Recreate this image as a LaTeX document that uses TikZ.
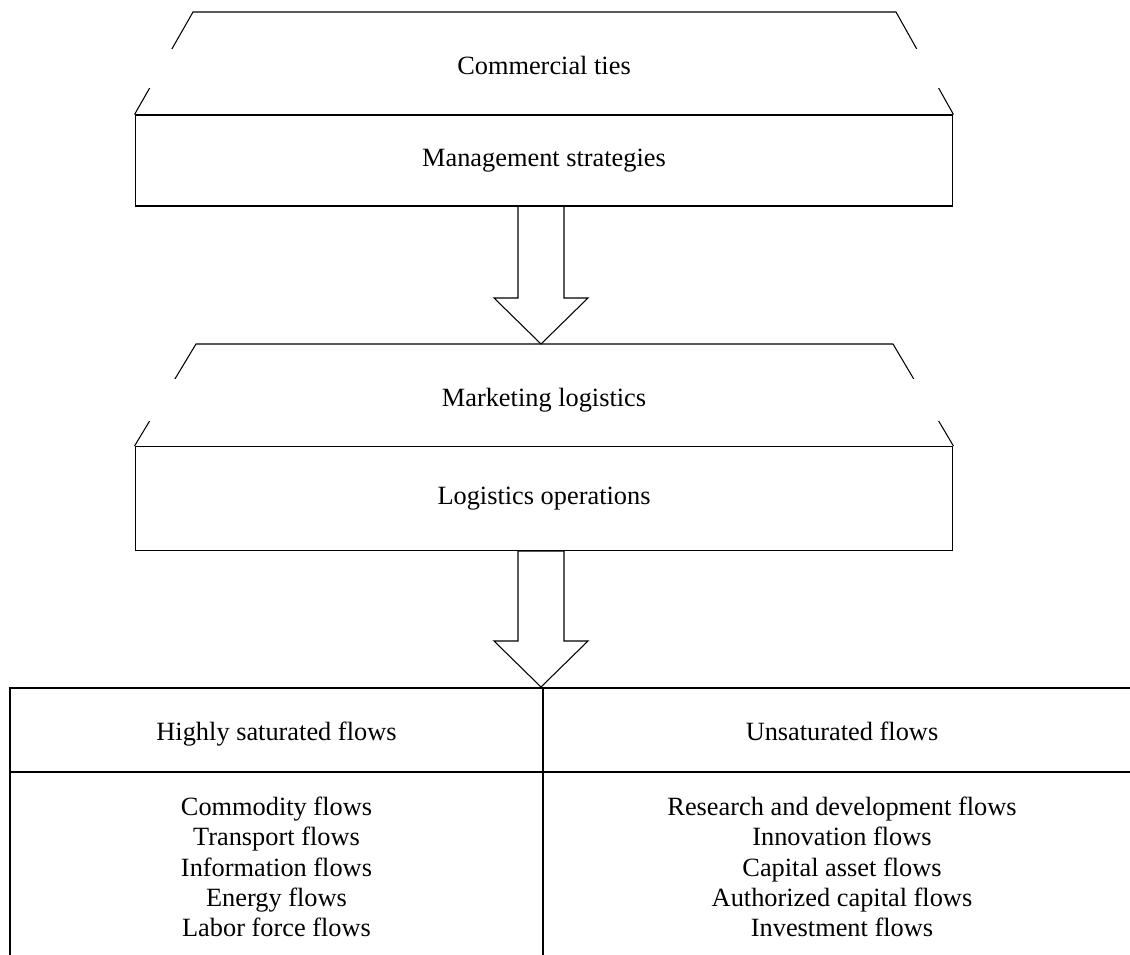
\documentclass[tikz,border=0pt]{standalone}
\usepackage{fontspec}
\setmainfont{Liberation Serif}
\usetikzlibrary{calc}

% hollow block arrow, from the middle of its tail (#1) to its tip (#2)
\newcommand{\fatarrow}[2]{%
  \draw ($(#1)+(-23,0)$) -- ($(#2)+(-23,-46)$) -- ($(#2)+(-47,-46)$) -- (#2)
    -- ($(#2)+(47,-46)$) -- ($(#2)+(23,-46)$) -- ($(#1)+(23,0)$) -- cycle;}

\begin{document}
\begin{tikzpicture}[x=0.02cm, y=-0.02cm, line width=0.6pt,
  font=\fontsize{15}{17.3}\selectfont,
  label text/.style={text height=0.8em, text depth=0.1em},
  box/.style={draw, label text, minimum width=16.36cm, inner sep=0pt},
  band/.style={fill=white, label text, minimum width=16.4cm, inner sep=0pt},
  head/.style={label text, inner sep=0pt},
  cell/.style={align=center, inner sep=0pt}]
\useasboundingbox (0,0) rectangle (1130,955);

% upper block
\node[box, minimum height=1.82cm] (mgmt) at (544,160.5) {Management strategies};
\coordinate (ct-l) at (193,12);
\coordinate (ct-r) at (896,12);
\draw (mgmt.north west) -- (ct-l) -- (ct-r) -- (mgmt.north east);
\node[band, minimum height=0.78cm] (comm) at (544,68.5) {Commercial ties};

% first arrow
\coordinate (a1-tail) at (541,206);
\coordinate (a1-tip) at (541,344);
\fatarrow{a1-tail}{a1-tip}

% middle block
\node[box, minimum height=2.08cm] (ops) at (544,498.5) {Logistics operations};
\coordinate (ml-l) at (196,344);
\coordinate (ml-r) at (893,344);
\draw (ops.north west) -- (ml-l) -- (ml-r) -- (ops.north east);
\node[band, minimum height=0.84cm] (mark) at (544,400) {Marketing logistics};

% second arrow
\coordinate (a2-tail) at (541,551);
\coordinate (a2-tip) at (541,687);
\fatarrow{a2-tail}{a2-tip}

% table of flows
\coordinate (t-nw) at (10,688);
\coordinate (t-ne) at (1130,688);
\coordinate (t-w) at (10,772);
\coordinate (t-e) at (1130,772);
\coordinate (t-sw) at (10,955);
\coordinate (t-n) at (543,688);
\coordinate (t-s) at (543,955);
\draw (t-sw) -- (t-nw) -- (t-ne);
\draw (t-w) -- (t-e);
\draw (t-n) -- (t-s);

\node[head] (sat) at (276.5,734) {Highly saturated flows};
\node[head] (unsat) at (842,734) {Unsaturated flows};
\node[cell] (satlist) at (276.5,867) {Commodity flows\\Transport flows\\Information flows\\Energy flows\\Labor force flows};
\node[cell] (unsatlist) at (842,867) {Research and development flows\\Innovation flows\\Capital asset flows\\Authorized capital flows\\Investment flows};
\end{tikzpicture}
\end{document}
